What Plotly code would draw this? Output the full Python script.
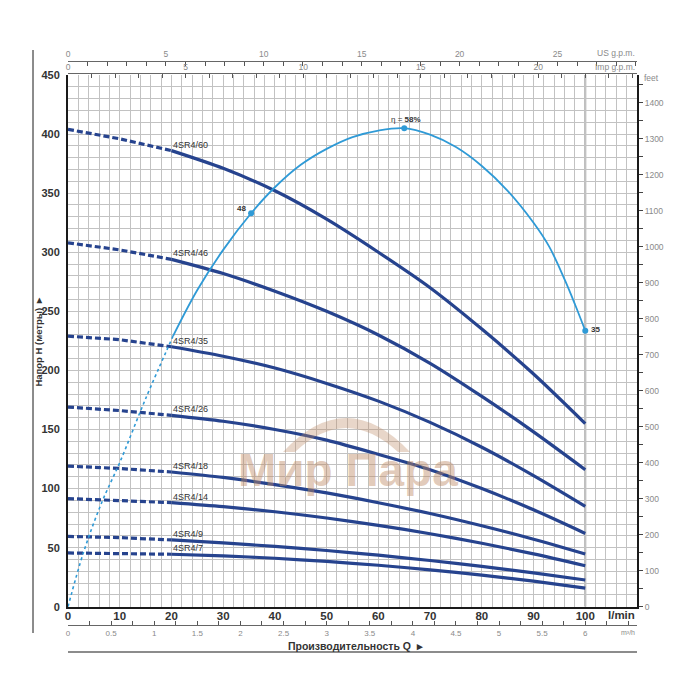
import plotly.graph_objects as go

# ---------------- data ----------------
flow = [0, 10, 20, 30, 40, 50, 60, 70, 80, 90, 100]          # l/min
models = ["4SR4/60", "4SR4/46", "4SR4/35", "4SR4/26", "4SR4/18", "4SR4/14", "4SR4/9", "4SR4/7"]
head_60 = [404, 396, 386, 371, 352, 328, 300, 270, 235, 197, 155]
head_46 = [308, 302, 294, 282, 267, 250, 230, 206, 178, 148, 116]
head_35 = [229, 226, 220, 212, 202, 189, 174, 156, 135, 111, 85]
head_26 = [169, 166, 162, 157, 150, 141, 129, 116, 100, 82, 62]
head_18 = [119, 117, 114, 109.4, 103.4, 96.3, 88, 78.9, 68.5, 57.1, 44.6]
head_14 = [91.5, 89.8, 88.1, 84.7, 80.4, 75.1, 68.9, 61.8, 53.7, 44.7, 34.7]
head_9 = [59.5, 58.5, 56.5, 54.0, 51.0, 47.6, 43.6, 39.1, 34.1, 28.6, 22.6]
head_7 = [45.5, 45.0, 44.4, 43.0, 41.0, 38.3, 35.1, 31.2, 26.7, 21.6, 15.8]
heads = [head_60, head_46, head_35, head_26, head_18, head_14, head_9, head_7]

# efficiency curve drawn in the head scale
eff_flow_dot = [0, 3, 6.5, 10, 15, 20.3]
eff_dot = [0, 46, 88, 122, 176, 229]
eff_flow = [20.3, 25, 30, 35.4, 40, 45, 50, 55, 60, 65, 70, 75, 80, 85, 90, 93, 96, 98, 100]
eff_curve = [229, 268, 302, 333, 355, 374, 387.5, 397.5, 403, 405, 399.5, 389, 373, 352, 325, 305, 277, 256, 233.6]
eff_mark_q = [35.4, 65, 100]
eff_mark_h = [333, 405, 233.6]
eff_mark_txt = ["48", "η = <b>58%</b>", "35"]

q_max = 110          # l/min  (axis end)
h_max = 450          # m
flow_ticks = [0, 10, 20, 30, 40, 50, 60, 70, 80, 90, 100]
m3h_ticks = [0, 0.5, 1, 1.5, 2, 2.5, 3, 3.5, 4, 4.5, 5, 5.5, 6]
LMIN_PER_USGPM = 3.78541
LMIN_PER_IMPGPM = 4.54609
LMIN_PER_M3H = 16.6667
FT_PER_M = 3.28084

# ---------------- style ----------------
DARK = "#26438e"
LIGHT = "#2f9ad6"
GRID = "#c2c2c2"
SANS = "Liberation Sans, Arial, sans-serif"
TXT = "#333333"
GRAYTXT = "#8a8a8a"

fig = go.Figure()

for name, h in zip(models, heads):
    fig.add_trace(go.Scatter(x=flow[:3], y=h[:3], mode="lines",
                             line=dict(color=DARK, width=3.2, dash="6px,3px"),
                             showlegend=False, hoverinfo="skip"))
    fig.add_trace(go.Scatter(x=flow[2:], y=h[2:], mode="lines",
                             line=dict(color=DARK, width=3.2, shape="spline", smoothing=0.8),
                             showlegend=False, hoverinfo="skip"))
    fig.add_annotation(x=flow[2], y=h[2], text=name, showarrow=False,
                       xanchor="left", yanchor="bottom", xshift=0, yshift=-1,
                       font=dict(family=SANS, size=9, color=TXT))

fig.add_trace(go.Scatter(x=eff_flow_dot, y=eff_dot, mode="lines",
                         line=dict(color=LIGHT, width=1.6, dash="dot", shape="spline"),
                         showlegend=False, hoverinfo="skip"))
fig.add_trace(go.Scatter(x=eff_flow, y=eff_curve, mode="lines",
                         line=dict(color=LIGHT, width=1.8, shape="spline", smoothing=1.0),
                         showlegend=False, hoverinfo="skip"))
fig.add_trace(go.Scatter(x=eff_mark_q, y=eff_mark_h, mode="markers",
                         marker=dict(color=LIGHT, size=6),
                         showlegend=False, hoverinfo="skip"))

# efficiency labels
fig.add_annotation(x=eff_mark_q[0], y=eff_mark_h[0], text="<b>" + eff_mark_txt[0] + "</b>",
                   showarrow=False, xanchor="right", yanchor="middle", xshift=-3, yshift=5,
                   font=dict(family=SANS, size=8, color=TXT))
fig.add_annotation(x=eff_mark_q[1], y=eff_mark_h[1], text=eff_mark_txt[1],
                   showarrow=False, xanchor="center", yanchor="bottom", xshift=2, yshift=2,
                   font=dict(family=SANS, size=8, color=TXT))
fig.add_annotation(x=eff_mark_q[2], y=eff_mark_h[2], text="<b>" + eff_mark_txt[2] + "</b>",
                   showarrow=False, xanchor="left", yanchor="middle", xshift=4, yshift=1,
                   font=dict(family=SANS, size=8, color=TXT))

# dummy invisible traces so secondary axes are drawn
for xa, ya in [("x2", "y"), ("x3", "y"), ("x4", "y"), ("x", "y2")]:
    fig.add_trace(go.Scatter(x=[0], y=[0], xaxis=xa, yaxis=ya, mode="markers",
                             marker=dict(opacity=0), showlegend=False, hoverinfo="skip"))

Y0, Y1 = 0.0564, 0.9576

fig.update_layout(
    width=700, height=700,
    margin=dict(l=68, r=63, t=50, b=60, autoexpand=False),
    paper_bgcolor="white", plot_bgcolor="white",
    showlegend=False,
    xaxis=dict(range=[0, q_max], domain=[0, 1], anchor="y",
               tickmode="array", tickvals=flow_ticks, ticktext=[str(v) for v in flow_ticks],
               ticks="", showgrid=True, gridcolor=GRID, gridwidth=1,
               minor=dict(tick0=0, dtick=2, showgrid=True, gridcolor=GRID, gridwidth=1),
               showline=True, linecolor="#1a1a1a", linewidth=2, zeroline=False,
               ticklabelstandoff=-3, automargin=False,
               tickfont=dict(family=SANS, size=11.5, color=TXT, weight="bold")),
    yaxis=dict(range=[0, h_max], domain=[Y0, Y1], anchor="x",
               tick0=0, dtick=50, ticks="", showgrid=True, gridcolor=GRID, gridwidth=1,
               minor=dict(tick0=0, dtick=10, showgrid=True, gridcolor=GRID, gridwidth=1),
               showline=True, linecolor="#1a1a1a", linewidth=2, zeroline=False,
               ticklabelstandoff=4, automargin=False,
               tickfont=dict(family=SANS, size=11, color=TXT, weight="bold")),
    yaxis2=dict(range=[0, h_max * FT_PER_M], overlaying="y", side="right", anchor="x",
                tick0=0, dtick=100, ticks="outside", ticklen=4, tickcolor="#444",
                minor=dict(tick0=0, dtick=50, ticks="outside", ticklen=4, tickcolor="#444"),
                showgrid=False, zeroline=False, automargin=False,
                showline=True, linecolor="#1a1a1a", linewidth=2,
                tickfont=dict(family=SANS, size=8.5, color=GRAYTXT)),
    xaxis2=dict(range=[0, q_max / LMIN_PER_USGPM], overlaying="x", side="top",
                anchor="free", position=0.9819, automargin=False,
                tick0=0, dtick=5, ticks="inside", ticklen=4, tickcolor="#555",
                minor=dict(tick0=0, dtick=1, ticks="inside", ticklen=4, tickcolor="#555"),
                showgrid=False, zeroline=False,
                showline=True, linecolor="#666", linewidth=1,
                tickfont=dict(family=SANS, size=8.5, color=GRAYTXT)),
    xaxis3=dict(range=[0, q_max / LMIN_PER_IMPGPM], overlaying="x", side="top",
                anchor="free", position=0.9605, automargin=False,
                tick0=0, dtick=5, ticks="inside", ticklen=4, tickcolor="#555",
                minor=dict(tick0=0, dtick=1, ticks="inside", ticklen=4, tickcolor="#555"),
                showgrid=False, zeroline=False,
                showline=True, linecolor="#666", linewidth=1,
                tickfont=dict(family=SANS, size=8.5, color=GRAYTXT)),
    xaxis4=dict(range=[0, q_max / LMIN_PER_M3H], overlaying="x", side="bottom",
                anchor="free", position=0.0254, automargin=False,
                tickmode="array", tickvals=m3h_ticks, ticktext=[f"{v:g}" for v in m3h_ticks],
                ticks="inside", ticklen=4, tickcolor="#555",
                minor=dict(tick0=0, dtick=0.25, ticks="inside", ticklen=4, tickcolor="#555"),
                showgrid=False, zeroline=False,
                showline=True, linecolor="#666", linewidth=1,
                tickfont=dict(family=SANS, size=8, color=GRAYTXT)),
)

# heavier reference line at 100 l/min
fig.add_shape(type="line", xref="x", yref="y", x0=flow_ticks[-1], x1=flow_ticks[-1],
              y0=0, y1=h_max, line=dict(color="#a8a8a8", width=2), layer="below")
# frame decorations
fig.add_shape(type="line", xref="paper", yref="paper", x0=-0.0615, x1=-0.0615,
              y0=0.0119, y1=1.0, line=dict(color="#666", width=1.5))
fig.add_shape(type="line", xref="paper", yref="paper", x0=0, x1=1.0,
              y0=-0.0203, y1=-0.0203, line=dict(color="#666", width=1.5))

# axis unit labels & titles
fig.add_annotation(xref="paper", yref="paper", x=1.0, y=0.9949, text="US g.p.m.",
                   showarrow=False, xanchor="right", yanchor="middle",
                   font=dict(family=SANS, size=8.5, color=GRAYTXT))
fig.add_annotation(xref="paper", yref="paper", x=1.0, y=0.9717, text="Imp g.p.m.",
                   showarrow=False, xanchor="right", yanchor="middle",
                   font=dict(family=SANS, size=8.5, color=GRAYTXT))
fig.add_annotation(xref="paper", yref="paper", x=1.008, y=0.952, text="feet",
                   showarrow=False, xanchor="left", yanchor="middle",
                   font=dict(family=SANS, size=8.5, color=GRAYTXT))
fig.add_annotation(xref="paper", yref="paper", x=1.0, y=0.0424, text="<b>l/min</b>",
                   showarrow=False, xanchor="right", yanchor="middle",
                   font=dict(family=SANS, size=11.5, color=TXT))
fig.add_annotation(xref="paper", yref="paper", x=1.0, y=0.0125, text="m³/h",
                   showarrow=False, xanchor="right", yanchor="middle",
                   font=dict(family=SANS, size=7, color=GRAYTXT))
fig.add_annotation(xref="paper", yref="paper", x=0.5044, y=-0.0102,
                   text="<b>Производительность Q  ▸</b>",
                   showarrow=False, xanchor="center", yanchor="middle",
                   font=dict(family=SANS, size=10.5, color=TXT))
fig.add_annotation(xref="paper", yref="paper", x=-0.0535, y=0.505,
                   text="<b>Напор H (метры)  ▸</b>", textangle=-90,
                   showarrow=False, xanchor="center", yanchor="middle",
                   font=dict(family=SANS, size=9.5, color=TXT))

# watermark text + logo arc
fig.add_annotation(xref="paper", yref="paper", x=0.492, y=0.288, text="<b>Мир Пара</b>",
                   showarrow=False, xanchor="center", yanchor="middle",
                   font=dict(family=SANS, size=46, color="rgba(190,138,100,0.45)"))
fig.add_shape(type="path", xref="paper", yref="paper",
              path="M 0.3779 0.3186 Q 0.4886 0.4339 0.6011 0.3186 L 0.5800 0.3186 "
                   "Q 0.4886 0.4000 0.3989 0.3186 Z",
              fillcolor="rgba(190,138,100,0.35)", line=dict(width=0), layer="above")

fig.write_html("out.html", config={"displayModeBar": False},
               post_script="document.body.style.margin='0px';")
